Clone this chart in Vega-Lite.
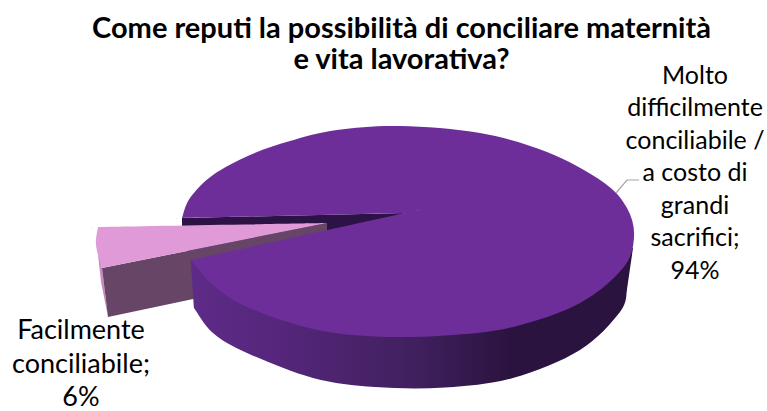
{
  "$schema": "https://vega.github.io/schema/vega-lite/v6.json",
  "width": 767,
  "height": 411,
  "padding": 0,
  "autosize": {"type": "none"},
  "background": "white",
  "view": {"stroke": null},
  "title": {
    "text": ["Come reputi la possibilità di conciliare maternità", "e vita lavorativa?"],
    "orient": "top",
    "anchor": "middle",
    "frame": "group",
    "baseline": "alphabetic",
    "offset": -98,
    "dx": 18,
    "font": "Lato",
    "fontSize": 29,
    "fontWeight": 700,
    "lineHeight": 31,
    "color": "#000000"
  },
  "datasets": {
    "backWall": [
      {"n":1,"x":182,"y":218},{"n":2,"x":405,"y":213},{"n":3,"x":327,"y":245},{"n":4,"x":190,"y":259},{"n":5,"x":182,"y":226}
    ],
    "smallEdge": [
      {"n":1,"x":97,"y":245},{"n":2,"x":102,"y":268},{"n":3,"x":108,"y":317},{"n":4,"x":101,"y":282}
    ],
    "smallWall": [
      {"n":1,"x":102,"y":268},{"n":2,"x":327,"y":223},{"n":3,"x":327,"y":231},{"n":4,"x":250,"y":287},{"n":5,"x":108,"y":317}
    ],
    "smallTop": [
      {"n":1,"x":327,"y":223},{"n":2,"x":327,"y":223},{"n":3,"x":327,"y":223},
      {"n":4,"x":98,"y":227},{"n":5,"x":98,"y":227},{"n":6,"x":98,"y":227},
      {"n":7,"x":96,"y":245},
      {"n":8,"x":102,"y":268},{"n":9,"x":102,"y":268},{"n":10,"x":102,"y":268}
    ],
    "largeWall": [
      {"n":1,"x":190.7,"y":260},{"n":2,"x":190.7,"y":260},{"n":3,"x":190.7,"y":260},
      {"n":4,"x":194,"y":308},{"n":5,"x":194,"y":308},{"n":6,"x":194,"y":308},
      {"n":7,"x":213,"y":333},{"n":8,"x":247,"y":353},{"n":9,"x":313,"y":378},{"n":10,"x":375,"y":387},
      {"n":11,"x":445,"y":387.5},{"n":12,"x":513,"y":378},{"n":13,"x":580,"y":350},{"n":14,"x":620,"y":312},
      {"n":15,"x":627,"y":290},{"n":16,"x":627,"y":290},{"n":17,"x":627,"y":290},
      {"n":18,"x":633,"y":248},{"n":19,"x":633,"y":248},{"n":20,"x":633,"y":248}
    ],
    "largeTop": [
      {"n":1,"x":405,"y":213},{"n":2,"x":405,"y":213},{"n":3,"x":405,"y":213},
      {"n":4,"x":190.7,"y":260},{"n":5,"x":190.7,"y":260},{"n":6,"x":190.7,"y":260},
      {"n":7,"x":213,"y":285},{"n":8,"x":247,"y":307},{"n":9,"x":313,"y":329},{"n":10,"x":375,"y":336.5},
      {"n":11,"x":445,"y":335.5},{"n":12,"x":513,"y":327},{"n":13,"x":580,"y":303},{"n":14,"x":623,"y":268},
      {"n":15,"x":634,"y":237},{"n":16,"x":627,"y":208},{"n":17,"x":603,"y":182},{"n":18,"x":547,"y":152},
      {"n":19,"x":480,"y":133},{"n":20,"x":400,"y":126},{"n":21,"x":337,"y":130},{"n":22,"x":290,"y":141},
      {"n":23,"x":250,"y":155},{"n":24,"x":213,"y":175},{"n":25,"x":190,"y":198},
      {"n":26,"x":182,"y":218},{"n":27,"x":182,"y":218},{"n":28,"x":182,"y":218},
      {"n":29,"x":405,"y":213},{"n":30,"x":405,"y":213},{"n":31,"x":405,"y":213}
    ],
    "leader": [
      {"n":1,"x":616,"y":193},{"n":2,"x":627,"y":180},{"n":3,"x":639,"y":180}
    ],
    "slices": [
      {"category":"Molto difficilmente conciliabile / a costo di grandi sacrifici","share":94,"label":"Molto\ndifficilmente\nconciliabile /\na costo di\ngrandi\nsacrifici;\n94%","x":695,"y":83.5},
      {"category":"Facilmente conciliabile","share":6,"label":"Facilmente\nconciliabile;\n6%","x":81,"y":339}
    ]
  },
  "encoding": {
    "x": {"field":"x","type":"quantitative","axis":null,"scale":{"domain":[0,767],"nice":false,"zero":false}},
    "y": {"field":"y","type":"quantitative","axis":null,"scale":{"domain":[0,411],"reverse":true,"nice":false,"zero":false}}
  },
  "layer": [
    {
      "data":{"name":"backWall"},
      "mark":{"type":"line","fill":"#2D1345","stroke":null},
      "encoding":{"order":{"field":"n","type":"quantitative"}}
    },
    {
      "data":{"name":"smallEdge"},
      "mark":{"type":"line","fill":"#C68CBF","stroke":null},
      "encoding":{"order":{"field":"n","type":"quantitative"}}
    },
    {
      "data":{"name":"smallWall"},
      "mark":{"type":"line","fill":"#664566","stroke":null},
      "encoding":{"order":{"field":"n","type":"quantitative"}}
    },
    {
      "data":{"name":"smallTop"},
      "mark":{"type":"line","interpolate":"cardinal","fill":"#E09AD8","stroke":null},
      "encoding":{"order":{"field":"n","type":"quantitative"}}
    },
    {
      "data":{"name":"largeWall"},
      "mark":{"type":"line","interpolate":"cardinal","stroke":null,
        "fill":{"gradient":"linear","x1":0,"y1":0,"x2":1,"y2":0,"stops":[
          {"offset":0,"color":"#5E2B88"},
          {"offset":0.2,"color":"#55267B"},
          {"offset":0.5,"color":"#41205F"},
          {"offset":0.72,"color":"#2B1340"},
          {"offset":1,"color":"#2B1340"}
        ]}},
      "encoding":{"order":{"field":"n","type":"quantitative"}}
    },
    {
      "data":{"name":"largeTop"},
      "mark":{"type":"line","interpolate":"cardinal","fill":"#6D2E9A","stroke":null},
      "encoding":{"order":{"field":"n","type":"quantitative"}}
    },
    {
      "data":{"name":"leader"},
      "mark":{"type":"line","stroke":"#A6A6A6","strokeWidth":1.2},
      "encoding":{"order":{"field":"n","type":"quantitative"}}
    },
    {
      "data":{"name":"slices"},
      "transform":[{"filter":"datum.share > 50"}],
      "mark":{"type":"text","font":"Lato","fontSize":25,"lineHeight":32.5,"lineBreak":"\n","align":"center","baseline":"alphabetic","color":"#000000"},
      "encoding":{"text":{"field":"label","type":"nominal"}}
    },
    {
      "data":{"name":"slices"},
      "transform":[{"filter":"datum.share < 50"}],
      "mark":{"type":"text","font":"Lato","fontSize":27,"lineHeight":33.5,"lineBreak":"\n","align":"center","baseline":"alphabetic","color":"#000000"},
      "encoding":{"text":{"field":"label","type":"nominal"}}
    }
  ]
}
